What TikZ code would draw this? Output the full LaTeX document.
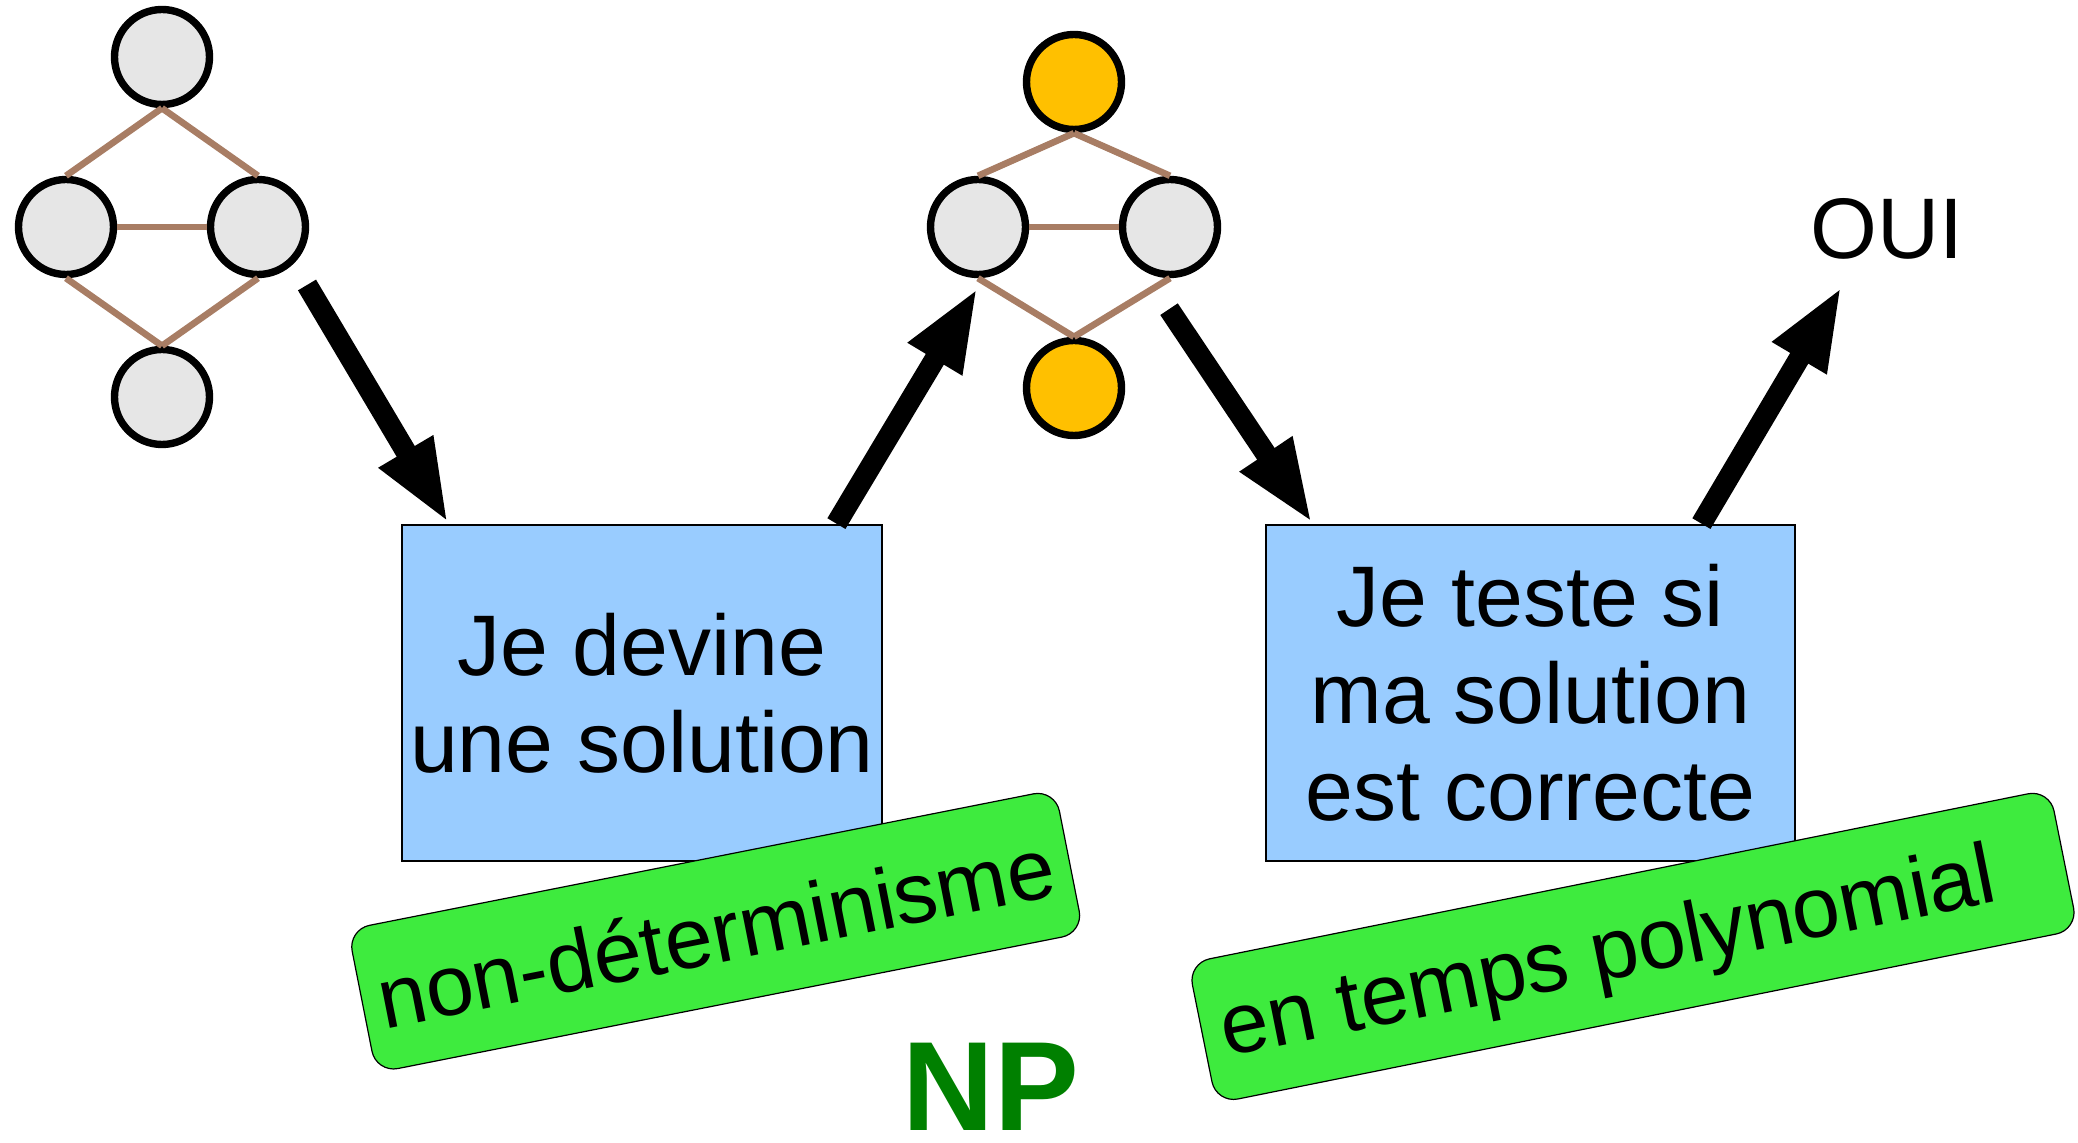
\documentclass[tikz,border=0pt]{standalone}
\usepackage{fontspec}
\setmainfont{Liberation Sans}
\usetikzlibrary{arrows.meta,calc}
\definecolor{edgebrown}{RGB}{168,125,100}
\definecolor{nodegray}{RGB}{230,230,230}
\definecolor{nodeorange}{RGB}{255,192,0}
\definecolor{boxblue}{RGB}{153,204,255}
\definecolor{labgreen}{RGB}{62,235,62}
\definecolor{npgreen}{RGB}{0,128,0}
\begin{document}
\begin{tikzpicture}[x=0.5pt,y=-0.5pt,
  vert/.style={circle,draw=black,line width=3.7pt,minimum size=47.5pt,inner sep=0pt,fill=nodegray},
  vertsel/.style={vert,fill=nodeorange},
  gedge/.style={draw=edgebrown,line width=3.3pt},
  bigarrow/.style={line width=10.5pt,-{Triangle[length=42pt,width=28.5pt]}},
  stepbox/.style={draw=black,line width=1.4pt,fill=boxblue,inner sep=0pt,align=center,font=\fontsize{43}{48.5}\selectfont},
  tag/.style={draw=black,line width=0.6pt,fill=labgreen,rounded corners=11pt,inner sep=0pt},
  txt/.style={font=\fontsize{43}{48.5}\selectfont}]
\useasboundingbox (0,0) rectangle (2078,1143);

% left graph
\node[vert] (a1) at (162,57) {};
\node[vert] (a2) at (66,227) {};
\node[vert] (a3) at (258,227) {};
\node[vert] (a4) at (162,397) {};
\draw[gedge] (a1.south) -- (a2.north);
\draw[gedge] (a1.south) -- (a3.north);
\draw[gedge] (a2.east) -- (a3.west);
\draw[gedge] (a2.south) -- (a4.north);
\draw[gedge] (a3.south) -- (a4.north);

% middle graph
\node[vertsel] (b1) at (1074,82) {};
\node[vert] (b2) at (978,227) {};
\node[vert] (b3) at (1170,227) {};
\node[vertsel] (b4) at (1074,388) {};
\draw[gedge] (b1.south) -- (b2.north);
\draw[gedge] (b1.south) -- (b3.north);
\draw[gedge] (b2.east) -- (b3.west);
\draw[gedge] (b2.south) -- (b4.north);
\draw[gedge] (b3.south) -- (b4.north);

% boxes
\node[stepbox,minimum width=240pt,minimum height=168pt] (box1) at (642,693) {Je devine\\une solution};
\node[stepbox,minimum width=264.5pt,minimum height=168pt] (box2) at (1530.5,693) {Je teste si\\ma solution\\est correcte};

% green tags
\node[tag,rotate=11.2,minimum width=360.5pt,minimum height=73pt] (tag1) at (715.7,931.2) {};
\node[txt,rotate=11.2,anchor=base] (tag1t) at ($(tag1.center)+(6,31)$) {non-déterminisme};
\node[tag,rotate=11.4,minimum width=439.5pt,minimum height=71.5pt] (tag2) at (1633,946.4) {};
\node[txt,rotate=11.4,anchor=base] (tag2t) at ($(tag2.center)+(-20,32.6)$) {en temps polynomial};

% texts
\node[txt,anchor=base] (oui) at (1887,259) {OUI};
\node[font=\fontsize{63.5}{70}\selectfont\bfseries,text=npgreen,anchor=base] (np) at (991,1130) {NP};

% arrows
\coordinate (s1) at (307,285);
\coordinate (t4) at (1842,286);
\draw[bigarrow] (s1) -- ($(box1.north west)+(48,0)$);
\draw[bigarrow] ($(box1.north east)+(-47,0)$) -- ($(b2.south)+(0,9)$);
\draw[bigarrow] ($(b3.south)+(-1,31)$) -- ($(box2.north west)+(48,0)$);
\draw[bigarrow] ($(box2.north east)+(-95,0)$) -- (t4);
\end{tikzpicture}
\end{document}
